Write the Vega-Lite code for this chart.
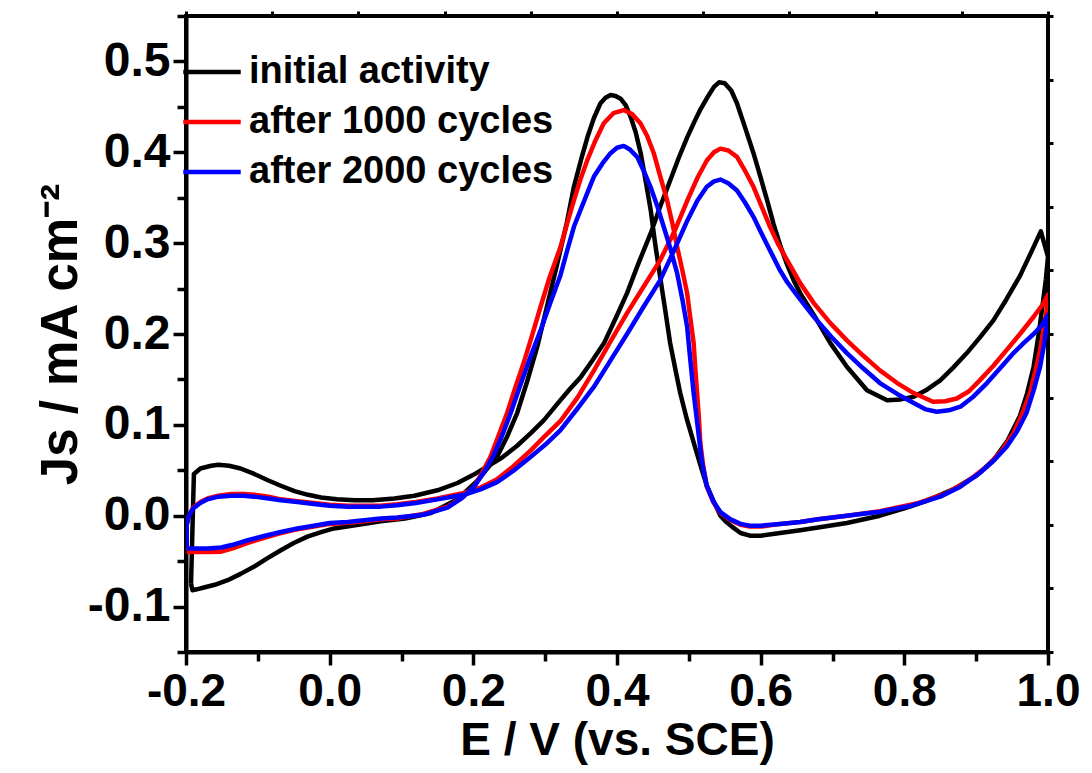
{
  "$schema": "https://vega.github.io/schema/vega-lite/v6.json",
  "width": 862,
  "height": 636,
  "autosize": {"type": "none"},
  "padding": {"left": 186, "top": 16, "right": 44, "bottom": 121},
  "background": "white",
  "config": {
    "view": {"stroke": "black", "strokeWidth": 4},
    "font": "Liberation Sans"
  },
  "datasets": {
    "cv": [
      {"series": "initial activity", "i": 0, "E": -0.193, "J": -0.075},
      {"series": "initial activity", "i": 1, "E": -0.189, "J": 0.046},
      {"series": "initial activity", "i": 2, "E": -0.18, "J": 0.052},
      {"series": "initial activity", "i": 3, "E": -0.165, "J": 0.055},
      {"series": "initial activity", "i": 4, "E": -0.155, "J": 0.056},
      {"series": "initial activity", "i": 5, "E": -0.14, "J": 0.055},
      {"series": "initial activity", "i": 6, "E": -0.124, "J": 0.052},
      {"series": "initial activity", "i": 7, "E": -0.105, "J": 0.046},
      {"series": "initial activity", "i": 8, "E": -0.086, "J": 0.039},
      {"series": "initial activity", "i": 9, "E": -0.068, "J": 0.033},
      {"series": "initial activity", "i": 10, "E": -0.049, "J": 0.027},
      {"series": "initial activity", "i": 11, "E": -0.03, "J": 0.023},
      {"series": "initial activity", "i": 12, "E": -0.012, "J": 0.02},
      {"series": "initial activity", "i": 13, "E": 0.01, "J": 0.018},
      {"series": "initial activity", "i": 14, "E": 0.035, "J": 0.017},
      {"series": "initial activity", "i": 15, "E": 0.06, "J": 0.017},
      {"series": "initial activity", "i": 16, "E": 0.09, "J": 0.019},
      {"series": "initial activity", "i": 17, "E": 0.118, "J": 0.022},
      {"series": "initial activity", "i": 18, "E": 0.15, "J": 0.028},
      {"series": "initial activity", "i": 19, "E": 0.178, "J": 0.036},
      {"series": "initial activity", "i": 20, "E": 0.2, "J": 0.045},
      {"series": "initial activity", "i": 21, "E": 0.215, "J": 0.052},
      {"series": "initial activity", "i": 22, "E": 0.24, "J": 0.064},
      {"series": "initial activity", "i": 23, "E": 0.261, "J": 0.077},
      {"series": "initial activity", "i": 24, "E": 0.28, "J": 0.091},
      {"series": "initial activity", "i": 25, "E": 0.298, "J": 0.105},
      {"series": "initial activity", "i": 26, "E": 0.321, "J": 0.127},
      {"series": "initial activity", "i": 27, "E": 0.335, "J": 0.14},
      {"series": "initial activity", "i": 28, "E": 0.349, "J": 0.152},
      {"series": "initial activity", "i": 29, "E": 0.365, "J": 0.17},
      {"series": "initial activity", "i": 30, "E": 0.382, "J": 0.19},
      {"series": "initial activity", "i": 31, "E": 0.398, "J": 0.217},
      {"series": "initial activity", "i": 32, "E": 0.414, "J": 0.245},
      {"series": "initial activity", "i": 33, "E": 0.43, "J": 0.278},
      {"series": "initial activity", "i": 34, "E": 0.447, "J": 0.311},
      {"series": "initial activity", "i": 35, "E": 0.46, "J": 0.34},
      {"series": "initial activity", "i": 36, "E": 0.474, "J": 0.369},
      {"series": "initial activity", "i": 37, "E": 0.486, "J": 0.394},
      {"series": "initial activity", "i": 38, "E": 0.498, "J": 0.417},
      {"series": "initial activity", "i": 39, "E": 0.508, "J": 0.434},
      {"series": "initial activity", "i": 40, "E": 0.516, "J": 0.447},
      {"series": "initial activity", "i": 41, "E": 0.527, "J": 0.462},
      {"series": "initial activity", "i": 42, "E": 0.535, "J": 0.472},
      {"series": "initial activity", "i": 43, "E": 0.542, "J": 0.477},
      {"series": "initial activity", "i": 44, "E": 0.55, "J": 0.476},
      {"series": "initial activity", "i": 45, "E": 0.559, "J": 0.468},
      {"series": "initial activity", "i": 46, "E": 0.567, "J": 0.454},
      {"series": "initial activity", "i": 47, "E": 0.578, "J": 0.428},
      {"series": "initial activity", "i": 48, "E": 0.59, "J": 0.399},
      {"series": "initial activity", "i": 49, "E": 0.6, "J": 0.372},
      {"series": "initial activity", "i": 50, "E": 0.609, "J": 0.347},
      {"series": "initial activity", "i": 51, "E": 0.618, "J": 0.321},
      {"series": "initial activity", "i": 52, "E": 0.627, "J": 0.298},
      {"series": "initial activity", "i": 53, "E": 0.637, "J": 0.276},
      {"series": "initial activity", "i": 54, "E": 0.646, "J": 0.259},
      {"series": "initial activity", "i": 55, "E": 0.655, "J": 0.245},
      {"series": "initial activity", "i": 56, "E": 0.674, "J": 0.221},
      {"series": "initial activity", "i": 57, "E": 0.697, "J": 0.19},
      {"series": "initial activity", "i": 58, "E": 0.72, "J": 0.164},
      {"series": "initial activity", "i": 59, "E": 0.748, "J": 0.138},
      {"series": "initial activity", "i": 60, "E": 0.776, "J": 0.127},
      {"series": "initial activity", "i": 61, "E": 0.795, "J": 0.128},
      {"series": "initial activity", "i": 62, "E": 0.813, "J": 0.131},
      {"series": "initial activity", "i": 63, "E": 0.83, "J": 0.138},
      {"series": "initial activity", "i": 64, "E": 0.85, "J": 0.149},
      {"series": "initial activity", "i": 65, "E": 0.868, "J": 0.163},
      {"series": "initial activity", "i": 66, "E": 0.887, "J": 0.179},
      {"series": "initial activity", "i": 67, "E": 0.905, "J": 0.196},
      {"series": "initial activity", "i": 68, "E": 0.924, "J": 0.215},
      {"series": "initial activity", "i": 69, "E": 0.942, "J": 0.238},
      {"series": "initial activity", "i": 70, "E": 0.961, "J": 0.264},
      {"series": "initial activity", "i": 71, "E": 0.976, "J": 0.289},
      {"series": "initial activity", "i": 72, "E": 0.99, "J": 0.313},
      {"series": "initial activity", "i": 73, "E": 1.0, "J": 0.285},
      {"series": "initial activity", "i": 74, "E": 0.997, "J": 0.26},
      {"series": "initial activity", "i": 75, "E": 0.993, "J": 0.235},
      {"series": "initial activity", "i": 76, "E": 0.987, "J": 0.2},
      {"series": "initial activity", "i": 77, "E": 0.98, "J": 0.164},
      {"series": "initial activity", "i": 78, "E": 0.971, "J": 0.135},
      {"series": "initial activity", "i": 79, "E": 0.961, "J": 0.11},
      {"series": "initial activity", "i": 80, "E": 0.944, "J": 0.083},
      {"series": "initial activity", "i": 81, "E": 0.924, "J": 0.061},
      {"series": "initial activity", "i": 82, "E": 0.9, "J": 0.044},
      {"series": "initial activity", "i": 83, "E": 0.868, "J": 0.029},
      {"series": "initial activity", "i": 84, "E": 0.83, "J": 0.016},
      {"series": "initial activity", "i": 85, "E": 0.8, "J": 0.008},
      {"series": "initial activity", "i": 86, "E": 0.766, "J": 0.0},
      {"series": "initial activity", "i": 87, "E": 0.72, "J": -0.008},
      {"series": "initial activity", "i": 88, "E": 0.68, "J": -0.013},
      {"series": "initial activity", "i": 89, "E": 0.655, "J": -0.016},
      {"series": "initial activity", "i": 90, "E": 0.627, "J": -0.019},
      {"series": "initial activity", "i": 91, "E": 0.6, "J": -0.022},
      {"series": "initial activity", "i": 92, "E": 0.585, "J": -0.022},
      {"series": "initial activity", "i": 93, "E": 0.572, "J": -0.019},
      {"series": "initial activity", "i": 94, "E": 0.56, "J": -0.012},
      {"series": "initial activity", "i": 95, "E": 0.551, "J": -0.006},
      {"series": "initial activity", "i": 96, "E": 0.544, "J": 0.0},
      {"series": "initial activity", "i": 97, "E": 0.535, "J": 0.015},
      {"series": "initial activity", "i": 98, "E": 0.525, "J": 0.033},
      {"series": "initial activity", "i": 99, "E": 0.516, "J": 0.056},
      {"series": "initial activity", "i": 100, "E": 0.507, "J": 0.08},
      {"series": "initial activity", "i": 101, "E": 0.497, "J": 0.107},
      {"series": "initial activity", "i": 102, "E": 0.488, "J": 0.135},
      {"series": "initial activity", "i": 103, "E": 0.481, "J": 0.162},
      {"series": "initial activity", "i": 104, "E": 0.474, "J": 0.19},
      {"series": "initial activity", "i": 105, "E": 0.467, "J": 0.227},
      {"series": "initial activity", "i": 106, "E": 0.46, "J": 0.263},
      {"series": "initial activity", "i": 107, "E": 0.453, "J": 0.3},
      {"series": "initial activity", "i": 108, "E": 0.447, "J": 0.336},
      {"series": "initial activity", "i": 109, "E": 0.44, "J": 0.368},
      {"series": "initial activity", "i": 110, "E": 0.433, "J": 0.399},
      {"series": "initial activity", "i": 111, "E": 0.426, "J": 0.422},
      {"series": "initial activity", "i": 112, "E": 0.419, "J": 0.439},
      {"series": "initial activity", "i": 113, "E": 0.412, "J": 0.452},
      {"series": "initial activity", "i": 114, "E": 0.405, "J": 0.459},
      {"series": "initial activity", "i": 115, "E": 0.398, "J": 0.462},
      {"series": "initial activity", "i": 116, "E": 0.391, "J": 0.463},
      {"series": "initial activity", "i": 117, "E": 0.384, "J": 0.46},
      {"series": "initial activity", "i": 118, "E": 0.377, "J": 0.454},
      {"series": "initial activity", "i": 119, "E": 0.368, "J": 0.438},
      {"series": "initial activity", "i": 120, "E": 0.359, "J": 0.417},
      {"series": "initial activity", "i": 121, "E": 0.35, "J": 0.392},
      {"series": "initial activity", "i": 122, "E": 0.34, "J": 0.362},
      {"series": "initial activity", "i": 123, "E": 0.33, "J": 0.322},
      {"series": "initial activity", "i": 124, "E": 0.317, "J": 0.278},
      {"series": "initial activity", "i": 125, "E": 0.303, "J": 0.232},
      {"series": "initial activity", "i": 126, "E": 0.289, "J": 0.186},
      {"series": "initial activity", "i": 127, "E": 0.275, "J": 0.148},
      {"series": "initial activity", "i": 128, "E": 0.261, "J": 0.113},
      {"series": "initial activity", "i": 129, "E": 0.247, "J": 0.087},
      {"series": "initial activity", "i": 130, "E": 0.233, "J": 0.065},
      {"series": "initial activity", "i": 131, "E": 0.206, "J": 0.039},
      {"series": "initial activity", "i": 132, "E": 0.178, "J": 0.018},
      {"series": "initial activity", "i": 133, "E": 0.141, "J": 0.003},
      {"series": "initial activity", "i": 134, "E": 0.105, "J": -0.003},
      {"series": "initial activity", "i": 135, "E": 0.071, "J": -0.006},
      {"series": "initial activity", "i": 136, "E": 0.04, "J": -0.01},
      {"series": "initial activity", "i": 137, "E": 0.006, "J": -0.014},
      {"series": "initial activity", "i": 138, "E": -0.012, "J": -0.018},
      {"series": "initial activity", "i": 139, "E": -0.031, "J": -0.023},
      {"series": "initial activity", "i": 140, "E": -0.05, "J": -0.03},
      {"series": "initial activity", "i": 141, "E": -0.068, "J": -0.038},
      {"series": "initial activity", "i": 142, "E": -0.087, "J": -0.047},
      {"series": "initial activity", "i": 143, "E": -0.105, "J": -0.056},
      {"series": "initial activity", "i": 144, "E": -0.124, "J": -0.064},
      {"series": "initial activity", "i": 145, "E": -0.142, "J": -0.071},
      {"series": "initial activity", "i": 146, "E": -0.16, "J": -0.076},
      {"series": "initial activity", "i": 147, "E": -0.175, "J": -0.079},
      {"series": "initial activity", "i": 148, "E": -0.185, "J": -0.081},
      {"series": "initial activity", "i": 149, "E": -0.191, "J": -0.082},
      {"series": "initial activity", "i": 150, "E": -0.193, "J": -0.075},

      {"series": "after 1000 cycles", "i": 0, "E": -0.199, "J": -0.038},
      {"series": "after 1000 cycles", "i": 1, "E": -0.199, "J": -0.01},
      {"series": "after 1000 cycles", "i": 2, "E": -0.196, "J": 0.0},
      {"series": "after 1000 cycles", "i": 3, "E": -0.19, "J": 0.009},
      {"series": "after 1000 cycles", "i": 4, "E": -0.18, "J": 0.015},
      {"series": "after 1000 cycles", "i": 5, "E": -0.17, "J": 0.019},
      {"series": "after 1000 cycles", "i": 6, "E": -0.155, "J": 0.022},
      {"series": "after 1000 cycles", "i": 7, "E": -0.137, "J": 0.024},
      {"series": "after 1000 cycles", "i": 8, "E": -0.12, "J": 0.024},
      {"series": "after 1000 cycles", "i": 9, "E": -0.105, "J": 0.023},
      {"series": "after 1000 cycles", "i": 10, "E": -0.085, "J": 0.021},
      {"series": "after 1000 cycles", "i": 11, "E": -0.068, "J": 0.018},
      {"series": "after 1000 cycles", "i": 12, "E": -0.045, "J": 0.016},
      {"series": "after 1000 cycles", "i": 13, "E": -0.022, "J": 0.014},
      {"series": "after 1000 cycles", "i": 14, "E": 0.0, "J": 0.012},
      {"series": "after 1000 cycles", "i": 15, "E": 0.025, "J": 0.011},
      {"series": "after 1000 cycles", "i": 16, "E": 0.05, "J": 0.011},
      {"series": "after 1000 cycles", "i": 17, "E": 0.071, "J": 0.011},
      {"series": "after 1000 cycles", "i": 18, "E": 0.094, "J": 0.0125},
      {"series": "after 1000 cycles", "i": 19, "E": 0.12, "J": 0.015},
      {"series": "after 1000 cycles", "i": 20, "E": 0.15, "J": 0.019},
      {"series": "after 1000 cycles", "i": 21, "E": 0.187, "J": 0.025},
      {"series": "after 1000 cycles", "i": 22, "E": 0.21, "J": 0.031},
      {"series": "after 1000 cycles", "i": 23, "E": 0.233, "J": 0.04},
      {"series": "after 1000 cycles", "i": 24, "E": 0.255, "J": 0.054},
      {"series": "after 1000 cycles", "i": 25, "E": 0.28, "J": 0.072},
      {"series": "after 1000 cycles", "i": 26, "E": 0.3, "J": 0.088},
      {"series": "after 1000 cycles", "i": 27, "E": 0.321, "J": 0.104},
      {"series": "after 1000 cycles", "i": 28, "E": 0.345, "J": 0.13},
      {"series": "after 1000 cycles", "i": 29, "E": 0.368, "J": 0.16},
      {"series": "after 1000 cycles", "i": 30, "E": 0.391, "J": 0.192},
      {"series": "after 1000 cycles", "i": 31, "E": 0.414, "J": 0.223},
      {"series": "after 1000 cycles", "i": 32, "E": 0.437, "J": 0.252},
      {"series": "after 1000 cycles", "i": 33, "E": 0.46, "J": 0.281},
      {"series": "after 1000 cycles", "i": 34, "E": 0.48, "J": 0.313},
      {"series": "after 1000 cycles", "i": 35, "E": 0.498, "J": 0.347},
      {"series": "after 1000 cycles", "i": 36, "E": 0.512, "J": 0.372},
      {"series": "after 1000 cycles", "i": 37, "E": 0.525, "J": 0.391},
      {"series": "after 1000 cycles", "i": 38, "E": 0.535, "J": 0.4},
      {"series": "after 1000 cycles", "i": 39, "E": 0.544, "J": 0.404},
      {"series": "after 1000 cycles", "i": 40, "E": 0.555, "J": 0.402},
      {"series": "after 1000 cycles", "i": 41, "E": 0.567, "J": 0.395},
      {"series": "after 1000 cycles", "i": 42, "E": 0.578, "J": 0.38},
      {"series": "after 1000 cycles", "i": 43, "E": 0.59, "J": 0.362},
      {"series": "after 1000 cycles", "i": 44, "E": 0.601, "J": 0.341},
      {"series": "after 1000 cycles", "i": 45, "E": 0.613, "J": 0.318},
      {"series": "after 1000 cycles", "i": 46, "E": 0.625, "J": 0.298},
      {"series": "after 1000 cycles", "i": 47, "E": 0.637, "J": 0.281},
      {"series": "after 1000 cycles", "i": 48, "E": 0.655, "J": 0.256},
      {"series": "after 1000 cycles", "i": 49, "E": 0.674, "J": 0.234},
      {"series": "after 1000 cycles", "i": 50, "E": 0.697, "J": 0.212},
      {"series": "after 1000 cycles", "i": 51, "E": 0.72, "J": 0.193},
      {"series": "after 1000 cycles", "i": 52, "E": 0.743, "J": 0.176},
      {"series": "after 1000 cycles", "i": 53, "E": 0.766, "J": 0.16},
      {"series": "after 1000 cycles", "i": 54, "E": 0.79, "J": 0.146},
      {"series": "after 1000 cycles", "i": 55, "E": 0.813, "J": 0.135},
      {"series": "after 1000 cycles", "i": 56, "E": 0.84, "J": 0.1255},
      {"series": "after 1000 cycles", "i": 57, "E": 0.857, "J": 0.126},
      {"series": "after 1000 cycles", "i": 58, "E": 0.873, "J": 0.129},
      {"series": "after 1000 cycles", "i": 59, "E": 0.89, "J": 0.137},
      {"series": "after 1000 cycles", "i": 60, "E": 0.905, "J": 0.149},
      {"series": "after 1000 cycles", "i": 61, "E": 0.924, "J": 0.165},
      {"series": "after 1000 cycles", "i": 62, "E": 0.942, "J": 0.182},
      {"series": "after 1000 cycles", "i": 63, "E": 0.961, "J": 0.2},
      {"series": "after 1000 cycles", "i": 64, "E": 0.98, "J": 0.219},
      {"series": "after 1000 cycles", "i": 65, "E": 0.993, "J": 0.233},
      {"series": "after 1000 cycles", "i": 66, "E": 1.0, "J": 0.243},
      {"series": "after 1000 cycles", "i": 67, "E": 0.998, "J": 0.226},
      {"series": "after 1000 cycles", "i": 68, "E": 0.994, "J": 0.205},
      {"series": "after 1000 cycles", "i": 69, "E": 0.989, "J": 0.182},
      {"series": "after 1000 cycles", "i": 70, "E": 0.982, "J": 0.158},
      {"series": "after 1000 cycles", "i": 71, "E": 0.975, "J": 0.135},
      {"series": "after 1000 cycles", "i": 72, "E": 0.964, "J": 0.112},
      {"series": "after 1000 cycles", "i": 73, "E": 0.952, "J": 0.091},
      {"series": "after 1000 cycles", "i": 74, "E": 0.935, "J": 0.071},
      {"series": "after 1000 cycles", "i": 75, "E": 0.915, "J": 0.054},
      {"series": "after 1000 cycles", "i": 76, "E": 0.888, "J": 0.038},
      {"series": "after 1000 cycles", "i": 77, "E": 0.859, "J": 0.025},
      {"series": "after 1000 cycles", "i": 78, "E": 0.82, "J": 0.014},
      {"series": "after 1000 cycles", "i": 79, "E": 0.766, "J": 0.005},
      {"series": "after 1000 cycles", "i": 80, "E": 0.72, "J": 0.0},
      {"series": "after 1000 cycles", "i": 81, "E": 0.68, "J": -0.004},
      {"series": "after 1000 cycles", "i": 82, "E": 0.655, "J": -0.007},
      {"series": "after 1000 cycles", "i": 83, "E": 0.627, "J": -0.009},
      {"series": "after 1000 cycles", "i": 84, "E": 0.6, "J": -0.012},
      {"series": "after 1000 cycles", "i": 85, "E": 0.585, "J": -0.012},
      {"series": "after 1000 cycles", "i": 86, "E": 0.572, "J": -0.01},
      {"series": "after 1000 cycles", "i": 87, "E": 0.558, "J": -0.005},
      {"series": "after 1000 cycles", "i": 88, "E": 0.544, "J": 0.003},
      {"series": "after 1000 cycles", "i": 89, "E": 0.534, "J": 0.015},
      {"series": "after 1000 cycles", "i": 90, "E": 0.525, "J": 0.032},
      {"series": "after 1000 cycles", "i": 91, "E": 0.52, "J": 0.055},
      {"series": "after 1000 cycles", "i": 92, "E": 0.516, "J": 0.08},
      {"series": "after 1000 cycles", "i": 93, "E": 0.514, "J": 0.108},
      {"series": "after 1000 cycles", "i": 94, "E": 0.5115, "J": 0.135},
      {"series": "after 1000 cycles", "i": 95, "E": 0.509, "J": 0.162},
      {"series": "after 1000 cycles", "i": 96, "E": 0.5067, "J": 0.19},
      {"series": "after 1000 cycles", "i": 97, "E": 0.502, "J": 0.218},
      {"series": "after 1000 cycles", "i": 98, "E": 0.4976, "J": 0.245},
      {"series": "after 1000 cycles", "i": 99, "E": 0.491, "J": 0.27},
      {"series": "after 1000 cycles", "i": 100, "E": 0.4837, "J": 0.296},
      {"series": "after 1000 cycles", "i": 101, "E": 0.477, "J": 0.322},
      {"series": "after 1000 cycles", "i": 102, "E": 0.4698, "J": 0.347},
      {"series": "after 1000 cycles", "i": 103, "E": 0.46, "J": 0.374},
      {"series": "after 1000 cycles", "i": 104, "E": 0.4512, "J": 0.399},
      {"series": "after 1000 cycles", "i": 105, "E": 0.442, "J": 0.418},
      {"series": "after 1000 cycles", "i": 106, "E": 0.4326, "J": 0.432},
      {"series": "after 1000 cycles", "i": 107, "E": 0.421, "J": 0.442},
      {"series": "after 1000 cycles", "i": 108, "E": 0.4094, "J": 0.4465},
      {"series": "after 1000 cycles", "i": 109, "E": 0.395, "J": 0.443},
      {"series": "after 1000 cycles", "i": 110, "E": 0.3816, "J": 0.432},
      {"series": "after 1000 cycles", "i": 111, "E": 0.37, "J": 0.413},
      {"series": "after 1000 cycles", "i": 112, "E": 0.3585, "J": 0.391},
      {"series": "after 1000 cycles", "i": 113, "E": 0.349, "J": 0.37},
      {"series": "after 1000 cycles", "i": 114, "E": 0.34, "J": 0.347},
      {"series": "after 1000 cycles", "i": 115, "E": 0.33, "J": 0.32},
      {"series": "after 1000 cycles", "i": 116, "E": 0.3214, "J": 0.296},
      {"series": "after 1000 cycles", "i": 117, "E": 0.306, "J": 0.262},
      {"series": "after 1000 cycles", "i": 118, "E": 0.2936, "J": 0.23},
      {"series": "after 1000 cycles", "i": 119, "E": 0.282, "J": 0.199},
      {"series": "after 1000 cycles", "i": 120, "E": 0.27, "J": 0.168},
      {"series": "after 1000 cycles", "i": 121, "E": 0.258, "J": 0.14},
      {"series": "after 1000 cycles", "i": 122, "E": 0.247, "J": 0.113},
      {"series": "after 1000 cycles", "i": 123, "E": 0.235, "J": 0.088},
      {"series": "after 1000 cycles", "i": 124, "E": 0.224, "J": 0.065},
      {"series": "after 1000 cycles", "i": 125, "E": 0.212, "J": 0.047},
      {"series": "after 1000 cycles", "i": 126, "E": 0.201, "J": 0.032},
      {"series": "after 1000 cycles", "i": 127, "E": 0.183, "J": 0.019},
      {"series": "after 1000 cycles", "i": 128, "E": 0.164, "J": 0.0099},
      {"series": "after 1000 cycles", "i": 129, "E": 0.13, "J": 0.002},
      {"series": "after 1000 cycles", "i": 130, "E": 0.094, "J": -0.003},
      {"series": "after 1000 cycles", "i": 131, "E": 0.071, "J": -0.004},
      {"series": "after 1000 cycles", "i": 132, "E": 0.048, "J": -0.006},
      {"series": "after 1000 cycles", "i": 133, "E": 0.025, "J": -0.0077},
      {"series": "after 1000 cycles", "i": 134, "E": 0.0, "J": -0.009},
      {"series": "after 1000 cycles", "i": 135, "E": -0.022, "J": -0.012},
      {"series": "after 1000 cycles", "i": 136, "E": -0.045, "J": -0.015},
      {"series": "after 1000 cycles", "i": 137, "E": -0.068, "J": -0.019},
      {"series": "after 1000 cycles", "i": 138, "E": -0.09, "J": -0.024},
      {"series": "after 1000 cycles", "i": 139, "E": -0.114, "J": -0.03},
      {"series": "after 1000 cycles", "i": 140, "E": -0.135, "J": -0.036},
      {"series": "after 1000 cycles", "i": 141, "E": -0.151, "J": -0.0396},
      {"series": "after 1000 cycles", "i": 142, "E": -0.17, "J": -0.04},
      {"series": "after 1000 cycles", "i": 143, "E": -0.185, "J": -0.04},
      {"series": "after 1000 cycles", "i": 144, "E": -0.199, "J": -0.04},

      {"series": "after 2000 cycles", "i": 0, "E": -0.199, "J": -0.035},
      {"series": "after 2000 cycles", "i": 1, "E": -0.199, "J": -0.01},
      {"series": "after 2000 cycles", "i": 2, "E": -0.196, "J": 0.0},
      {"series": "after 2000 cycles", "i": 3, "E": -0.19, "J": 0.008},
      {"series": "after 2000 cycles", "i": 4, "E": -0.18, "J": 0.014},
      {"series": "after 2000 cycles", "i": 5, "E": -0.17, "J": 0.018},
      {"series": "after 2000 cycles", "i": 6, "E": -0.155, "J": 0.021},
      {"series": "after 2000 cycles", "i": 7, "E": -0.137, "J": 0.022},
      {"series": "after 2000 cycles", "i": 8, "E": -0.12, "J": 0.022},
      {"series": "after 2000 cycles", "i": 9, "E": -0.105, "J": 0.021},
      {"series": "after 2000 cycles", "i": 10, "E": -0.085, "J": 0.019},
      {"series": "after 2000 cycles", "i": 11, "E": -0.068, "J": 0.017},
      {"series": "after 2000 cycles", "i": 12, "E": -0.045, "J": 0.015},
      {"series": "after 2000 cycles", "i": 13, "E": -0.022, "J": 0.013},
      {"series": "after 2000 cycles", "i": 14, "E": 0.0, "J": 0.011},
      {"series": "after 2000 cycles", "i": 15, "E": 0.025, "J": 0.01},
      {"series": "after 2000 cycles", "i": 16, "E": 0.05, "J": 0.01},
      {"series": "after 2000 cycles", "i": 17, "E": 0.071, "J": 0.01},
      {"series": "after 2000 cycles", "i": 18, "E": 0.094, "J": 0.0115},
      {"series": "after 2000 cycles", "i": 19, "E": 0.12, "J": 0.014},
      {"series": "after 2000 cycles", "i": 20, "E": 0.15, "J": 0.018},
      {"series": "after 2000 cycles", "i": 21, "E": 0.187, "J": 0.023},
      {"series": "after 2000 cycles", "i": 22, "E": 0.21, "J": 0.029},
      {"series": "after 2000 cycles", "i": 23, "E": 0.233, "J": 0.037},
      {"series": "after 2000 cycles", "i": 24, "E": 0.255, "J": 0.049},
      {"series": "after 2000 cycles", "i": 25, "E": 0.28, "J": 0.065},
      {"series": "after 2000 cycles", "i": 26, "E": 0.3, "J": 0.078},
      {"series": "after 2000 cycles", "i": 27, "E": 0.321, "J": 0.094},
      {"series": "after 2000 cycles", "i": 28, "E": 0.345, "J": 0.118},
      {"series": "after 2000 cycles", "i": 29, "E": 0.368, "J": 0.142},
      {"series": "after 2000 cycles", "i": 30, "E": 0.391, "J": 0.171},
      {"series": "after 2000 cycles", "i": 31, "E": 0.414, "J": 0.2},
      {"series": "after 2000 cycles", "i": 32, "E": 0.437, "J": 0.23},
      {"series": "after 2000 cycles", "i": 33, "E": 0.46, "J": 0.259},
      {"series": "after 2000 cycles", "i": 34, "E": 0.48, "J": 0.293},
      {"series": "after 2000 cycles", "i": 35, "E": 0.498, "J": 0.325},
      {"series": "after 2000 cycles", "i": 36, "E": 0.512, "J": 0.347},
      {"series": "after 2000 cycles", "i": 37, "E": 0.525, "J": 0.362},
      {"series": "after 2000 cycles", "i": 38, "E": 0.535, "J": 0.368},
      {"series": "after 2000 cycles", "i": 39, "E": 0.544, "J": 0.37},
      {"series": "after 2000 cycles", "i": 40, "E": 0.555, "J": 0.366},
      {"series": "after 2000 cycles", "i": 41, "E": 0.567, "J": 0.358},
      {"series": "after 2000 cycles", "i": 42, "E": 0.578, "J": 0.345},
      {"series": "after 2000 cycles", "i": 43, "E": 0.59, "J": 0.329},
      {"series": "after 2000 cycles", "i": 44, "E": 0.601, "J": 0.311},
      {"series": "after 2000 cycles", "i": 45, "E": 0.613, "J": 0.292},
      {"series": "after 2000 cycles", "i": 46, "E": 0.627, "J": 0.27},
      {"series": "after 2000 cycles", "i": 47, "E": 0.637, "J": 0.257},
      {"series": "after 2000 cycles", "i": 48, "E": 0.655, "J": 0.238},
      {"series": "after 2000 cycles", "i": 49, "E": 0.674, "J": 0.219},
      {"series": "after 2000 cycles", "i": 50, "E": 0.697, "J": 0.198},
      {"series": "after 2000 cycles", "i": 51, "E": 0.72, "J": 0.179},
      {"series": "after 2000 cycles", "i": 52, "E": 0.743, "J": 0.162},
      {"series": "after 2000 cycles", "i": 53, "E": 0.766, "J": 0.146},
      {"series": "after 2000 cycles", "i": 54, "E": 0.79, "J": 0.134},
      {"series": "after 2000 cycles", "i": 55, "E": 0.813, "J": 0.124},
      {"series": "after 2000 cycles", "i": 56, "E": 0.83, "J": 0.117},
      {"series": "after 2000 cycles", "i": 57, "E": 0.845, "J": 0.1145},
      {"series": "after 2000 cycles", "i": 58, "E": 0.862, "J": 0.116},
      {"series": "after 2000 cycles", "i": 59, "E": 0.878, "J": 0.12},
      {"series": "after 2000 cycles", "i": 60, "E": 0.896, "J": 0.131},
      {"series": "after 2000 cycles", "i": 61, "E": 0.915, "J": 0.146},
      {"series": "after 2000 cycles", "i": 62, "E": 0.933, "J": 0.162},
      {"series": "after 2000 cycles", "i": 63, "E": 0.952, "J": 0.179},
      {"series": "after 2000 cycles", "i": 64, "E": 0.966, "J": 0.19},
      {"series": "after 2000 cycles", "i": 65, "E": 0.98, "J": 0.2},
      {"series": "after 2000 cycles", "i": 66, "E": 0.992, "J": 0.21},
      {"series": "after 2000 cycles", "i": 67, "E": 1.0, "J": 0.221},
      {"series": "after 2000 cycles", "i": 68, "E": 0.998, "J": 0.208},
      {"series": "after 2000 cycles", "i": 69, "E": 0.994, "J": 0.186},
      {"series": "after 2000 cycles", "i": 70, "E": 0.989, "J": 0.164},
      {"series": "after 2000 cycles", "i": 71, "E": 0.98, "J": 0.138},
      {"series": "after 2000 cycles", "i": 72, "E": 0.97, "J": 0.113},
      {"series": "after 2000 cycles", "i": 73, "E": 0.957, "J": 0.093},
      {"series": "after 2000 cycles", "i": 74, "E": 0.9425, "J": 0.076},
      {"series": "after 2000 cycles", "i": 75, "E": 0.925, "J": 0.061},
      {"series": "after 2000 cycles", "i": 76, "E": 0.905, "J": 0.047},
      {"series": "after 2000 cycles", "i": 77, "E": 0.878, "J": 0.032},
      {"series": "after 2000 cycles", "i": 78, "E": 0.85, "J": 0.021},
      {"series": "after 2000 cycles", "i": 79, "E": 0.81, "J": 0.011},
      {"series": "after 2000 cycles", "i": 80, "E": 0.766, "J": 0.0044},
      {"series": "after 2000 cycles", "i": 81, "E": 0.72, "J": 0.0},
      {"series": "after 2000 cycles", "i": 82, "E": 0.68, "J": -0.004},
      {"series": "after 2000 cycles", "i": 83, "E": 0.655, "J": -0.007},
      {"series": "after 2000 cycles", "i": 84, "E": 0.627, "J": -0.009},
      {"series": "after 2000 cycles", "i": 85, "E": 0.6, "J": -0.011},
      {"series": "after 2000 cycles", "i": 86, "E": 0.585, "J": -0.011},
      {"series": "after 2000 cycles", "i": 87, "E": 0.572, "J": -0.009},
      {"series": "after 2000 cycles", "i": 88, "E": 0.558, "J": -0.004},
      {"series": "after 2000 cycles", "i": 89, "E": 0.544, "J": 0.004},
      {"series": "after 2000 cycles", "i": 90, "E": 0.534, "J": 0.016},
      {"series": "after 2000 cycles", "i": 91, "E": 0.525, "J": 0.033},
      {"series": "after 2000 cycles", "i": 92, "E": 0.518, "J": 0.06},
      {"series": "after 2000 cycles", "i": 93, "E": 0.512, "J": 0.1},
      {"series": "after 2000 cycles", "i": 94, "E": 0.5067, "J": 0.135},
      {"series": "after 2000 cycles", "i": 95, "E": 0.502, "J": 0.172},
      {"series": "after 2000 cycles", "i": 96, "E": 0.4976, "J": 0.208},
      {"series": "after 2000 cycles", "i": 97, "E": 0.491, "J": 0.238},
      {"series": "after 2000 cycles", "i": 98, "E": 0.4837, "J": 0.267},
      {"series": "after 2000 cycles", "i": 99, "E": 0.474, "J": 0.295},
      {"series": "after 2000 cycles", "i": 100, "E": 0.465, "J": 0.318},
      {"series": "after 2000 cycles", "i": 101, "E": 0.456, "J": 0.341},
      {"series": "after 2000 cycles", "i": 102, "E": 0.4466, "J": 0.362},
      {"series": "after 2000 cycles", "i": 103, "E": 0.437, "J": 0.38},
      {"series": "after 2000 cycles", "i": 104, "E": 0.428, "J": 0.395},
      {"series": "after 2000 cycles", "i": 105, "E": 0.418, "J": 0.403},
      {"series": "after 2000 cycles", "i": 106, "E": 0.4094, "J": 0.407},
      {"series": "after 2000 cycles", "i": 107, "E": 0.4, "J": 0.405},
      {"series": "after 2000 cycles", "i": 108, "E": 0.391, "J": 0.399},
      {"series": "after 2000 cycles", "i": 109, "E": 0.38, "J": 0.388},
      {"series": "after 2000 cycles", "i": 110, "E": 0.3677, "J": 0.373},
      {"series": "after 2000 cycles", "i": 111, "E": 0.354, "J": 0.346},
      {"series": "after 2000 cycles", "i": 112, "E": 0.34, "J": 0.318},
      {"series": "after 2000 cycles", "i": 113, "E": 0.33, "J": 0.29},
      {"series": "after 2000 cycles", "i": 114, "E": 0.3214, "J": 0.265},
      {"series": "after 2000 cycles", "i": 115, "E": 0.3075, "J": 0.235},
      {"series": "after 2000 cycles", "i": 116, "E": 0.294, "J": 0.205},
      {"series": "after 2000 cycles", "i": 117, "E": 0.28, "J": 0.176},
      {"series": "after 2000 cycles", "i": 118, "E": 0.266, "J": 0.145},
      {"series": "after 2000 cycles", "i": 119, "E": 0.252, "J": 0.113},
      {"series": "after 2000 cycles", "i": 120, "E": 0.24, "J": 0.088},
      {"series": "after 2000 cycles", "i": 121, "E": 0.228, "J": 0.066},
      {"series": "after 2000 cycles", "i": 122, "E": 0.215, "J": 0.048},
      {"series": "after 2000 cycles", "i": 123, "E": 0.203, "J": 0.034},
      {"series": "after 2000 cycles", "i": 124, "E": 0.185, "J": 0.02},
      {"series": "after 2000 cycles", "i": 125, "E": 0.164, "J": 0.009},
      {"series": "after 2000 cycles", "i": 126, "E": 0.13, "J": 0.001},
      {"series": "after 2000 cycles", "i": 127, "E": 0.094, "J": -0.002},
      {"series": "after 2000 cycles", "i": 128, "E": 0.071, "J": -0.003},
      {"series": "after 2000 cycles", "i": 129, "E": 0.048, "J": -0.005},
      {"series": "after 2000 cycles", "i": 130, "E": 0.025, "J": -0.007},
      {"series": "after 2000 cycles", "i": 131, "E": 0.0, "J": -0.008},
      {"series": "after 2000 cycles", "i": 132, "E": -0.022, "J": -0.011},
      {"series": "after 2000 cycles", "i": 133, "E": -0.045, "J": -0.014},
      {"series": "after 2000 cycles", "i": 134, "E": -0.068, "J": -0.018},
      {"series": "after 2000 cycles", "i": 135, "E": -0.09, "J": -0.022},
      {"series": "after 2000 cycles", "i": 136, "E": -0.114, "J": -0.027},
      {"series": "after 2000 cycles", "i": 137, "E": -0.135, "J": -0.032},
      {"series": "after 2000 cycles", "i": 138, "E": -0.151, "J": -0.035},
      {"series": "after 2000 cycles", "i": 139, "E": -0.17, "J": -0.036},
      {"series": "after 2000 cycles", "i": 140, "E": -0.185, "J": -0.036},
      {"series": "after 2000 cycles", "i": 141, "E": -0.199, "J": -0.036}
    ]
  },
  "data": {"name": "cv"},
  "layer": [
    {
      "mark": {"type": "line", "strokeWidth": 4.5, "clip": true, "strokeJoin": "round"},
      "encoding": {
        "x": {
          "field": "E", "type": "quantitative",
          "scale": {"domain": [-0.2, 1.0], "nice": false, "zero": false},
          "axis": {
            "orient": "bottom",
            "title": "E / V (vs. SCE)",
            "values": [-0.2, -0.1, 0, 0.1, 0.2, 0.3, 0.4, 0.5, 0.6, 0.7, 0.8, 0.9, 1.0],
            "labelExpr": "abs(round(datum.value*5) - datum.value*5) < 0.01 ? replace(format(datum.value, '.1f'), '\u2212', '-') : ''",
            "tickSize": {"condition": {"test": "abs(round(datum.value*5) - datum.value*5) < 0.01", "value": 13}, "value": 9},
            "tickWidth": 3.5, "tickColor": "black",
            "domain": true, "domainColor": "black", "domainWidth": 4,
            "grid": false,
            "labelFont": "Liberation Sans", "labelFontWeight": "bold", "labelFontSize": 46, "labelColor": "black",
            "labelPadding": 4, "labelFlush": false, "labelOverlap": false,
            "titleFont": "Liberation Sans", "titleFontWeight": "bold", "titleFontSize": 46, "titleColor": "black",
            "titlePadding": 4
          }
        },
        "y": {
          "field": "J", "type": "quantitative",
          "scale": {"domain": [-0.15, 0.55], "nice": false, "zero": false},
          "axis": {
            "orient": "left",
            "title": "Js / mA cm\u207b\u00b2",
            "values": [-0.15, -0.1, -0.05, 0, 0.05, 0.1, 0.15, 0.2, 0.25, 0.3, 0.35, 0.4, 0.45, 0.5, 0.55],
            "labelExpr": "abs(round(datum.value*10) - datum.value*10) < 0.01 ? replace(format(datum.value, '.1f'), '\u2212', '-') : ''",
            "tickSize": {"condition": {"test": "abs(round(datum.value*10) - datum.value*10) < 0.01", "value": 13}, "value": 9},
            "tickWidth": 3.5, "tickColor": "black",
            "domain": true, "domainColor": "black", "domainWidth": 4,
            "grid": false,
            "labelFont": "Liberation Sans", "labelFontWeight": "bold", "labelFontSize": 48, "labelColor": "black",
            "labelPadding": 3, "labelFlush": false, "labelOverlap": false,
            "titleFont": "Liberation Sans", "titleFontWeight": "bold", "titleFontSize": 51, "titleColor": "black",
            "titlePadding": 0
          }
        },
        "color": {
          "field": "series", "type": "nominal",
          "scale": {"domain": ["initial activity", "after 1000 cycles", "after 2000 cycles"], "range": ["#000000", "#ff0000", "#0000ff"]},
          "legend": {
            "orient": "none", "legendX": -5, "legendY": 25,
            "title": null,
            "symbolType": "stroke", "symbolSize": 3300, "symbolStrokeWidth": 4.5,
            "labelFont": "Liberation Sans", "labelFontWeight": "bold", "labelFontSize": 38, "labelColor": "black",
            "labelLimit": 0,
            "labelOffset": 6, "rowPadding": -9, "padding": 0
          }
        },
        "order": {"field": "i", "type": "quantitative"}
      }
    },
    {
      "mark": {"type": "line", "opacity": 0},
      "encoding": {
        "x": {
          "field": "E", "type": "quantitative",
          "axis": {
            "orient": "top", "title": null, "labels": false, "domain": false, "grid": false,
            "values": [-0.2, -0.08, 0.04, 0.16, 0.28, 0.4, 0.52, 0.64, 0.76, 0.88, 1.0],
            "tickSize": 5, "tickWidth": 3, "tickColor": "black"
          }
        },
        "y": {
          "field": "J", "type": "quantitative",
          "axis": {
            "orient": "right", "title": null, "labels": false, "domain": false, "grid": false,
            "values": [-0.15, -0.08, -0.01, 0.06, 0.13, 0.2, 0.27, 0.34, 0.41, 0.48, 0.55],
            "tickSize": 5, "tickWidth": 3, "tickColor": "black"
          }
        },
        "detail": {"field": "series"},
        "order": {"field": "i", "type": "quantitative"}
      }
    }
  ],
  "resolve": {"axis": {"x": "independent", "y": "independent"}}
}
